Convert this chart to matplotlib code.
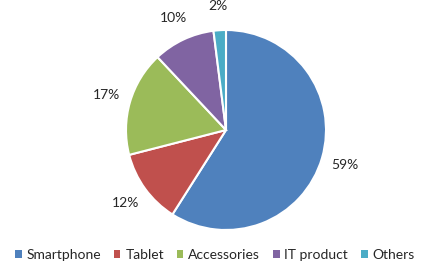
import matplotlib
matplotlib.use("Agg")
import matplotlib.pyplot as plt
from matplotlib.patches import Patch

categories = ["Smartphone", "Tablet", "Accessories", "IT product", "Others"]
shares = [59, 12, 17, 10, 2]
colors = ["#4F81BD", "#C0504D", "#9BBB59", "#8064A2", "#4BACC6"]

plt.rcParams['font.family'] = ['Lato', 'DejaVu Sans']

fig = plt.figure(figsize=(4.30, 2.64), dpi=100)
ax = fig.add_axes([0, 0, 1, 1])

wedges, texts, autotexts = ax.pie(
    shares, colors=colors, startangle=90, counterclock=False,
    center=(226, 134), radius=100,
    autopct=lambda p: f"{p:.0f}%", pctdistance=1.24,
    wedgeprops=dict(edgecolor='white', linewidth=1.5),
    textprops=dict(fontsize=10, color='#262626'))

# pie() resets the limits, so set them afterwards
ax.set_xlim(0, 430)
ax.set_ylim(0, 264)
ax.set_aspect('equal')
ax.axis('off')

handles = [Patch(facecolor=c, edgecolor='none') for c in colors]
fig.legend(handles, categories, loc='center', bbox_to_anchor=(0.5, 9 / 264),
           ncol=5, frameon=False, fontsize=10, handlelength=0.45, handleheight=0.45,
           handletextpad=0.35, columnspacing=0.95, labelcolor='#262626',
           borderpad=0, borderaxespad=0)

fig.savefig("out.png", dpi=100)
